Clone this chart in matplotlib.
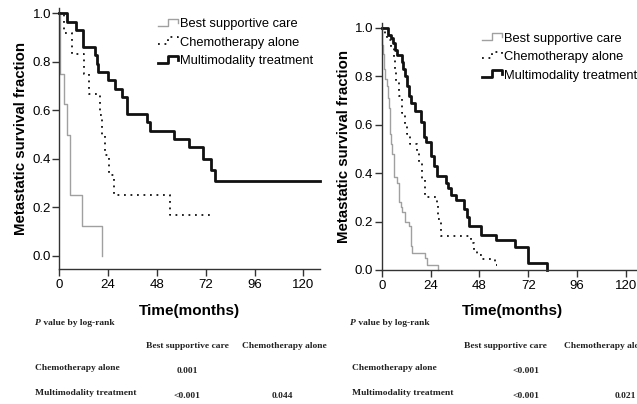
import matplotlib
matplotlib.use("Agg")
import matplotlib.pyplot as plt
from matplotlib.lines import Line2D
from matplotlib.legend_handler import HandlerBase

plt.rcParams['font.family'] = ['Liberation Sans', 'DejaVu Sans']

# ---- data (months, survival fraction) ----
groups = ['Best supportive care', 'Chemotherapy alone', 'Multimodality treatment']

left_bsc_t = [0, 0.3, 2.3, 3.6, 5.3, 11.1, 21.0]
left_bsc_s = [1.0, 0.75, 0.625, 0.5, 0.25, 0.125, 0.0]
left_chemo_t = [0, 2.5, 6.0, 12.0, 14.8, 20.2, 21.0, 22.5, 24.5, 26.8, 54.5, 74.0]
left_chemo_s = [1.0, 0.917, 0.833, 0.75, 0.667, 0.583, 0.5, 0.417, 0.333, 0.25, 0.167, 0.167]
left_multi_t = [0, 3.6, 8.3, 11.6, 17.4, 18.5, 19.0, 24.0, 27.3, 30.9, 33.1, 43.3, 44.5,
                56.2, 63.6, 70.6, 74.7, 76.4, 128]
left_multi_s = [1.0, 0.966, 0.931, 0.862, 0.828, 0.793, 0.759, 0.724, 0.690, 0.655, 0.586,
                0.552, 0.517, 0.483, 0.448, 0.40, 0.354, 0.309, 0.309]

right_bsc_t = [0, 0.2, 0.5, 1.3, 1.5, 2.5, 3.3, 3.6, 4.1, 4.3, 4.6, 5.0, 5.8, 6.0, 7.5, 8.3,
               8.5, 9.6, 9.8, 11.6, 13.2, 14.4, 14.6, 14.8, 21.5, 22.4, 27.5]
right_bsc_s = [1.0, 0.93, 0.89, 0.83, 0.79, 0.76, 0.71, 0.67, 0.61, 0.56, 0.52, 0.48, 0.43,
               0.385, 0.36, 0.32, 0.28, 0.26, 0.24, 0.20, 0.18, 0.14, 0.10, 0.07, 0.048,
               0.02, 0.0]
right_chemo_t = [0, 1.5, 2.5, 4.5, 5.8, 6.5, 7.0, 8.3, 10.0, 11.3, 12.4, 14.0, 17.5, 18.4,
                 20.0, 21.5, 27.0, 27.8, 29.0, 44.0, 45.5, 47.0, 49.5, 55.5, 56.5]
right_chemo_s = [1.0, 0.97, 0.95, 0.92, 0.87, 0.83, 0.78, 0.72, 0.65, 0.60, 0.56, 0.52, 0.49,
                 0.44, 0.37, 0.30, 0.27, 0.21, 0.14, 0.11, 0.083, 0.06, 0.044, 0.022, 0.022]
right_multi_t = [0, 3.3, 4.5, 5.5, 6.5, 7.5, 10.0, 10.6, 11.3, 12.4, 13.2, 14.4, 16.4, 19.4,
                 21.0, 21.9, 24.2, 25.8, 27.3, 31.6, 32.5, 34.0, 36.6, 40.5, 42.0, 43.0,
                 48.8, 56.0, 65.4, 72.0, 81.0]
right_multi_s = [1.0, 0.97, 0.958, 0.938, 0.91, 0.888, 0.86, 0.83, 0.80, 0.76, 0.72, 0.69,
                 0.655, 0.61, 0.55, 0.53, 0.47, 0.43, 0.39, 0.36, 0.34, 0.31, 0.29, 0.25,
                 0.22, 0.18, 0.145, 0.124, 0.094, 0.03, 0.0]

x_ticks = [0, 24, 48, 72, 96, 120]
y_ticks = [0.0, 0.2, 0.4, 0.6, 0.8, 1.0]

# log-rank p value tables
row_names = ['Chemotherapy alone', 'Multimodality treatment']
col_names = ['Best supportive care', 'Chemotherapy alone']
left_p = [['0.001', ''], ['<0.001', '0.044']]
right_p = [['<0.001', ''], ['<0.001', '0.021']]

styles = [dict(color='#a0a0a0', lw=1.0, ls='-'),
          dict(color='#111111', lw=1.3, ls=(0, (1, 2.6))),
          dict(color='#111111', lw=2.0, ls='-')]


class HandlerStep(HandlerBase):
    # little step-shaped glyph like the SPSS legend
    def create_artists(self, legend, orig_handle, xdescent, ydescent, width, height,
                       fontsize, trans):
        x0 = -xdescent
        y0 = -ydescent
        xs = [x0, x0 + 0.5 * width, x0 + 0.5 * width, x0 + width, x0 + width]
        ys = [y0 + 0.2 * height, y0 + 0.2 * height, y0 + 0.95 * height,
              y0 + 0.95 * height, y0 + 0.5 * height]
        ln = Line2D(xs, ys)
        self.update_prop(ln, orig_handle, legend)
        ln.set_drawstyle('default')
        ln.set_transform(trans)
        return [ln]


fig = plt.figure(figsize=(6.37, 4.04), dpi=100)
W, H = 637.0, 404.0


def make_axes(x0, y_zero, y_one, ybot, ytop):
    per = (y_zero - y_one)
    top_px = y_zero - ytop * per
    bot_px = y_zero - ybot * per
    width = 128 * 2.035
    return fig.add_axes([x0 / W, 1 - bot_px / H, width / W, (bot_px - top_px) / H])


def draw_panel(ax, series, ybot, leg_anchor):
    handles = []
    for (t, s), st, name in zip(series, styles, groups):
        ln, = ax.plot(t, s, drawstyle='steps-post', clip_on=False, label=name, **st)
        handles.append(ln)
    ax.set_xlim(0, 128)
    ax.set_ylim(ybot, 1.02)
    ax.set_xticks(x_ticks)
    ax.set_yticks(y_ticks)
    ax.set_yticklabels(['%.1f' % v for v in y_ticks])
    for sp in ['top', 'right']:
        ax.spines[sp].set_visible(False)
    for sp in ['left', 'bottom']:
        ax.spines[sp].set_color('#333333')
        ax.spines[sp].set_linewidth(1.0)
    ax.tick_params(direction='out', length=5, width=1, color='#333333',
                   labelsize=9.5, pad=1)
    ax.tick_params(axis='x', pad=2)
    ax.set_xlabel('Time(months)', fontsize=11, fontweight='bold', labelpad=9)
    ax.set_ylabel('Metastatic survival fraction', fontsize=10.8, fontweight='bold',
                  labelpad=3)
    ax.legend(handles=handles, loc='upper left', bbox_to_anchor=leg_anchor,
              frameon=False, fontsize=9.3, handlelength=1.55, handletextpad=0.15,
              labelspacing=0.5, borderpad=0, borderaxespad=0,
              handler_map={Line2D: HandlerStep()})


axL = make_axes(59.3, 256.0, 13.3, -0.055, 1.02)
draw_panel(axL, [(left_bsc_t, left_bsc_s), (left_chemo_t, left_chemo_s),
                 (left_multi_t, left_multi_s)], -0.055, (0.38, 0.962))

axR = make_axes(381.7, 270.0, 27.7, 0.0, 1.02)
draw_panel(axR, [(right_bsc_t, right_bsc_s), (right_chemo_t, right_chemo_s),
                 (right_multi_t, right_multi_s)], 0.0, (0.385, 0.96))


def table(x_title, x_row, x_heads, x_vals, pvals):
    kw = dict(family='Liberation Serif', fontweight='bold', fontsize=6.8,
              color='#222222')
    t = fig.text(x_title / W, 1 - 323 / H, 'P', style='italic', va='center', **kw)
    fig.add_artist(plt.Annotation(' value by log-rank', xy=(1, 0.5), xycoords=t,
                                  va='center', ha='left', **kw))
    for name, xc in zip(col_names, x_heads):
        fig.text(xc / W, 1 - 346 / H, name, ha='center', va='center', **kw)
    rows_y = [369, 394]
    for name, yr, vals in zip(row_names, rows_y, pvals):
        fig.text(x_row / W, 1 - (yr - 1) / H, name, ha='left', va='center', **kw)
        for v, xc in zip(vals, x_vals):
            if v:
                fig.text(xc / W, 1 - (yr + 2) / H, v, ha='center', va='center', **kw)


table(35, 35, [187, 284], [187, 282], left_p)
table(350, 352, [505, 606], [526, 625], right_p)

fig.savefig('out.png', dpi=100)
